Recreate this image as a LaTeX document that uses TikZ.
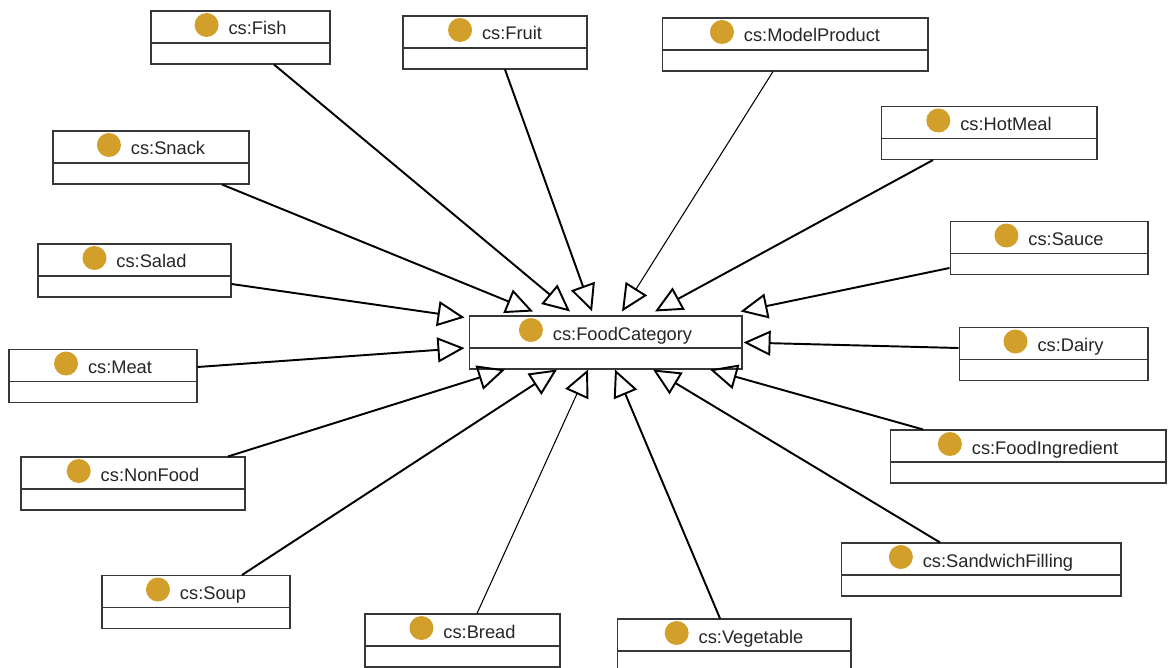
\documentclass[tikz,border=0pt]{standalone}
\usepackage{fontspec}
\setmainfont{Liberation Sans}
\usepackage{xcolor}
\usepackage{tikz}
\usetikzlibrary{arrows.meta}
\definecolor{classicon}{RGB}{210,160,42}
\definecolor{classline}{RGB}{55,55,55}

\begin{document}
\begin{tikzpicture}[x=0.02cm,y=-0.02cm,
		owlclass/.style={rectangle, draw=classline, line width=0.6pt, inner sep=0pt,
			minimum width=#1, text height=0.48cm, text depth=0.58cm,
			font=\fontsize{10.4}{12}\selectfont, text=black!85,
			execute at begin node=\hspace{0.68cm},
			path picture={\draw[classline, line width=0.6pt]
				([yshift=-0.64cm]path picture bounding box.north west) --
				([yshift=-0.64cm]path picture bounding box.north east);}},
		isa/.style={-{Triangle[open, length=0.54cm, width=0.5cm, line width=1.1pt]}, line width=1.1pt},
		isathin/.style={isa, line width=0.6pt}]
		\fill[white] (0,0) rectangle (1168,668);
		\useasboundingbox (0,0) rectangle (1168,668);

		% Classes along the top
		\node (fish) at (240.5,37.5) [owlclass=3.58cm] {cs:Fish};
		\node (fruit) at (495,42.5) [owlclass=3.68cm] {cs:Fruit};
		\node (modelproduct) at (795,44.5) [owlclass=5.32cm] {cs:ModelProduct};
		\node (snack) at (151,157.5) [owlclass=3.92cm] {cs:Snack};
		\node (hotmeal) at (989,133) [owlclass=4.32cm] {cs:HotMeal};

		% Classes on the left and right
		\node (salad) at (134.5,270.5) [owlclass=3.86cm] {cs:Salad};
		\node (sauce) at (1049,248) [owlclass=3.96cm] {cs:Sauce};
		\node (meat) at (103,376) [owlclass=3.76cm] {cs:Meat};
		\node (dairy) at (1053.5,354) [owlclass=3.78cm] {cs:Dairy};
		\node (nonfood) at (133,483.5) [owlclass=4.48cm] {cs:NonFood};
		\node (foodingredient) at (1028,456.5) [owlclass=5.52cm] {cs:FoodIngredient};

		% Classes along the bottom
		\node (soup) at (196,602) [owlclass=3.76cm] {cs:Soup};
		\node (bread) at (462.5,640.5) [owlclass=3.90cm] {cs:Bread};
		\node (vegetable) at (734,645.5) [owlclass=4.68cm] {cs:Vegetable};
		\node (sandwichfilling) at (981,569.5) [owlclass=5.60cm] {cs:SandwichFilling};

		% Superclass in the middle
		\node (foodcategory) at (605.5,342.5) [owlclass=5.46cm] {cs:FoodCategory};

		% Class icons
		\foreach \c in {fish,fruit,modelproduct,snack,hotmeal,salad,sauce,meat,dairy,nonfood,foodingredient,soup,bread,vegetable,sandwichfilling,foodcategory}
			\fill[classicon] ([xshift=0.24cm,yshift=0.2cm]\c.text) circle (0.24cm);

		% Subclass links
		\draw [isa] ([xshift=0.67cm]fish.south) -- ([xshift=-0.71cm,yshift=0.08cm]foodcategory.north);
		\draw [isa] ([xshift=0.20cm]fruit.south) -- ([xshift=-0.27cm,yshift=0.08cm]foodcategory.north);
		\draw [isathin] ([xshift=-0.44cm]modelproduct.south) -- ([xshift=0.33cm,yshift=0.08cm]foodcategory.north);
		\draw [isa] ([xshift=1.42cm]snack.south) -- ([xshift=-1.45cm,yshift=0.08cm]foodcategory.north);
		\draw [isa] ([xshift=-1.12cm]hotmeal.south) -- ([xshift=0.99cm,yshift=0.08cm]foodcategory.north);
		\draw [isa] ([yshift=-0.27cm]salad.east) -- ([xshift=-0.08cm,yshift=-0.04cm]foodcategory.north west);
		\draw [isa] ([yshift=-0.40cm]sauce.west) -- ([xshift=-0.04cm,yshift=0.08cm]foodcategory.north east);
		\draw [isa] ([yshift=0.18cm]meat.east) -- ([xshift=-0.08cm,yshift=-0.11cm]foodcategory.west);
		\draw [isa] ([yshift=0.12cm]dairy.west) -- ([xshift=0.02cm]foodcategory.east);
		\draw [isa] ([xshift=1.90cm]nonfood.north) -- ([xshift=-2.01cm]foodcategory.south);
		\draw [isa] ([xshift=-2.10cm]foodingredient.north) -- ([xshift=2.09cm]foodcategory.south);
		\draw [isa] ([xshift=0.92cm]soup.north) -- ([xshift=-0.97cm]foodcategory.south);
		\draw [isathin] ([xshift=0.29cm]bread.north) -- ([xshift=-0.35cm]foodcategory.south);
		\draw [isa] ([xshift=-0.28cm]vegetable.north) -- ([xshift=0.19cm]foodcategory.south);
		\draw [isa] ([xshift=-0.82cm]sandwichfilling.north) -- ([xshift=0.95cm]foodcategory.south);
	\end{tikzpicture}
\end{document}
